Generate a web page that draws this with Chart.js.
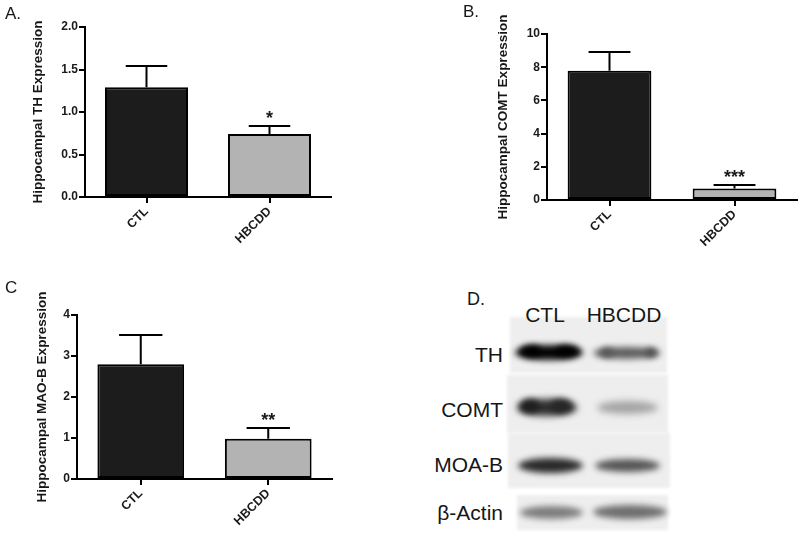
<!DOCTYPE html>
<html><head><meta charset="utf-8">
<script src="https://cdn.jsdelivr.net/npm/chart.js@4/dist/chart.umd.min.js"></script>
<style>
html,body{margin:0;padding:0;background:#fff;}
body{width:800px;height:533px;overflow:hidden;position:relative;font-family:"Liberation Sans",Arial,sans-serif;color:#111;}
canvas{position:absolute;}
.t{position:absolute;white-space:nowrap;line-height:1;color:#161616;}
.panel{position:absolute;background:#eeeeee;filter:blur(1.5px);}
.band{position:absolute;border-radius:50%;}
</style></head><body>
<canvas id="cA" width="340" height="250" style="left:0;top:0;width:340px;height:250px"></canvas>
<canvas id="cB" width="400" height="250" style="left:400px;top:0;width:400px;height:250px"></canvas>
<canvas id="cC" width="340" height="263" style="left:0;top:270px;width:340px;height:263px"></canvas>

<div class="t" style="left:5px;top:5px;font-size:17px">A.</div>
<div class="t" style="left:463px;top:3px;font-size:17px">B.</div>
<div class="t" style="left:5px;top:279px;font-size:17px">C</div>
<div class="t" style="left:467px;top:290px;font-size:18px">D.</div>

<div id="blot"></div>

<script>
// ---------- data ----------
const categories = ['CTL', 'HBCDD'];

const thMeans   = [1.29, 0.74];
const thUpper   = [1.54, 0.83];
const thStars   = ['', '*'];
const thTicks   = [0, 0.5, 1.0, 1.5, 2.0];

const comtMeans = [7.79, 0.70];
const comtUpper = [8.92, 0.88];
const comtStars = ['', '***'];
const comtTicks = [0, 2, 4, 6, 8, 10];

const maobMeans = [2.80, 0.98];
const maobUpper = [3.51, 1.25];
const maobStars = ['', '**'];
const maobTicks = [0, 1, 2, 3, 4];

const barColors = ['#1c1c1c', '#b3b3b3'];

// ---------- plugin: error bars + significance stars ----------
const errPlugin = {
  id: 'errbars',
  afterDatasetsDraw(chart, args, opts) {
    const ctx = chart.ctx, y = chart.scales.y;
    const meta = chart.getDatasetMeta(0);
    const vals = chart.data.datasets[0].data;
    ctx.save();
    ctx.strokeStyle = '#000';
    ctx.lineWidth = 2;
    meta.data.forEach((bar, i) => {
      const yt = Math.round(y.getPixelForValue(opts.upper[i]));
      const yb = y.getPixelForValue(vals[i]);
      const half = bar.width * 0.25;
      ctx.beginPath();
      ctx.moveTo(bar.x, yb); ctx.lineTo(bar.x, yt);
      ctx.moveTo(bar.x - half, yt); ctx.lineTo(bar.x + half, yt);
      ctx.stroke();
      if (opts.stars[i]) {
        ctx.fillStyle = '#1a1a1a';
        ctx.font = 'bold 18px "Liberation Sans", Arial, sans-serif';
        ctx.textAlign = 'center';
        ctx.textBaseline = 'alphabetic';
        ctx.fillText(opts.stars[i], bar.x, yt - 2);
      }
    });
    ctx.restore();
  }
};

function makeChart(id, means, upper, stars, ticks, yTitle, fmt, L) {
  return new Chart(document.getElementById(id), {
    type: 'bar',
    data: {
      labels: categories,
      datasets: [{
        data: means,
        backgroundColor: barColors,
        borderColor: '#000',
        borderWidth: 2,
        borderSkipped: false,
        barPercentage: 1,
        categoryPercentage: L.cat
      }]
    },
    options: {
      responsive: false,
      animation: false,
      devicePixelRatio: 1,
      layout: { padding: { left: L.padL, top: L.padT, right: L.padR, bottom: 0 } },
      plugins: {
        legend: { display: false },
        tooltip: { enabled: false },
        errbars: { upper: upper, stars: stars }
      },
      scales: {
        x: {
          offset: true,
          border: { display: true, color: '#000', width: 2 },
          grid: { offset: false, drawOnChartArea: false, drawTicks: true, tickLength: 6, color: '#000', lineWidth: 2 },
          ticks: {
            color: '#1a1a1a',
            font: { family: '"Liberation Sans", Arial, sans-serif', size: 12.5, weight: 'bold' },
            minRotation: 45, maxRotation: 45, autoSkip: false, padding: 1
          },
          afterFit: s => { s.height = L.xH; }
        },
        y: {
          min: ticks[0], max: ticks[ticks.length - 1],
          border: { display: true, color: '#000', width: 2 },
          grid: { drawOnChartArea: false, drawTicks: true, tickLength: 6, color: '#000', lineWidth: 2 },
          afterBuildTicks: s => { s.ticks = ticks.map(v => ({ value: v })); },
          ticks: {
            color: '#1a1a1a',
            font: { family: '"Liberation Sans", Arial, sans-serif', size: 12, weight: 'bold' },
            padding: 1,
            callback: v => fmt(v)
          },
          title: {
            display: true, text: yTitle, color: '#161616', padding: 0,
            font: { family: '"Liberation Sans", Arial, sans-serif', size: 13.5, weight: 'bold' }
          },
          afterFit: s => { s.width = L.yW; }
        }
      }
    },
    plugins: [errPlugin]
  });
}

makeChart('cA', thMeans, thUpper, thStars, thTicks, 'Hippocampal TH Expression',
  v => v.toFixed(1), { padL: 30, yW: 55, padT: 27, padR: 9, xH: 53, cat: 0.675 });
makeChart('cB', comtMeans, comtUpper, comtStars, comtTicks, 'Hippocampal COMT Expression',
  v => String(v), { padL: 95, yW: 52, padT: 34, padR: 3, xH: 50, cat: 0.67 });
makeChart('cC', maobMeans, maobUpper, maobStars, maobTicks, 'Hippocampal MAO-B Expression',
  v => String(v), { padL: 34, yW: 43, padT: 45, padR: 8, xH: 54, cat: 0.68 });

// ---------- panel D: western blot picture ----------
const blotColumns = ['CTL', 'HBCDD'];
const blotRows = ['TH', 'COMT', 'MOA-B', 'β-Actin'];
(function () {
  const root = document.getElementById('blot');
  function add(html) { root.insertAdjacentHTML('beforeend', html); }
  // membrane strips
  const panels = [[510, 317, 157, 56], [507, 375, 161, 58], [508, 433, 162, 55], [517, 495, 151, 35]];
  panels.forEach(p => add(`<div class="panel" style="left:${p[0]}px;top:${p[1]}px;width:${p[2]}px;height:${p[3]}px"></div>`));
  // bands: x, centerY, width, height, colour, blur
  const bands = [
    [515, 352, 68, 15, '#050505', 3], [593, 353, 67, 12, '#5e5e5e', 3],
    [517, 407, 60, 17, '#303030', 3.5], [597, 407, 61, 13, '#a4a4a4', 3.5],
    [518, 465, 65, 15, '#2a2a2a', 3], [595, 465, 65, 13, '#555555', 3],
    [520, 512, 63, 13, '#7c7c7c', 3], [593, 512, 74, 14, '#6e6e6e', 3]
  ];
  bands.forEach(b => add(`<div class="band" style="left:${b[0]}px;top:${b[1] - b[3] / 2}px;width:${b[2]}px;height:${b[3]}px;background:${b[4]};filter:blur(${b[5]}px)"></div>`));
  // lane darker lobes
  const lobes = [[520, 351, 22, 12, '#000'], [555, 351, 24, 12, '#000'], [520, 406, 20, 14, '#1e1e1e'], [550, 406, 22, 14, '#262626'],
                 [645, 352, 12, 9, '#4a4a4a'], [600, 352, 14, 9, '#555']];
  lobes.forEach(b => add(`<div class="band" style="left:${b[0]}px;top:${b[1] - b[3] / 2}px;width:${b[2]}px;height:${b[3]}px;background:${b[4]};filter:blur(3px)"></div>`));
  // labels
  add(`<div class="t" style="left:525px;top:304px;font-size:21px;width:40px;text-align:center">${blotColumns[0]}</div>`);
  add(`<div class="t" style="left:584px;top:304px;font-size:21px;width:80px;text-align:center">${blotColumns[1]}</div>`);
  const rowTops = [344, 399, 454, 502];
  blotRows.forEach((r, i) => add(`<div class="t" style="left:403px;top:${rowTops[i]}px;width:100px;font-size:21px;text-align:right">${r}</div>`));
})();
</script>
</body></html>
